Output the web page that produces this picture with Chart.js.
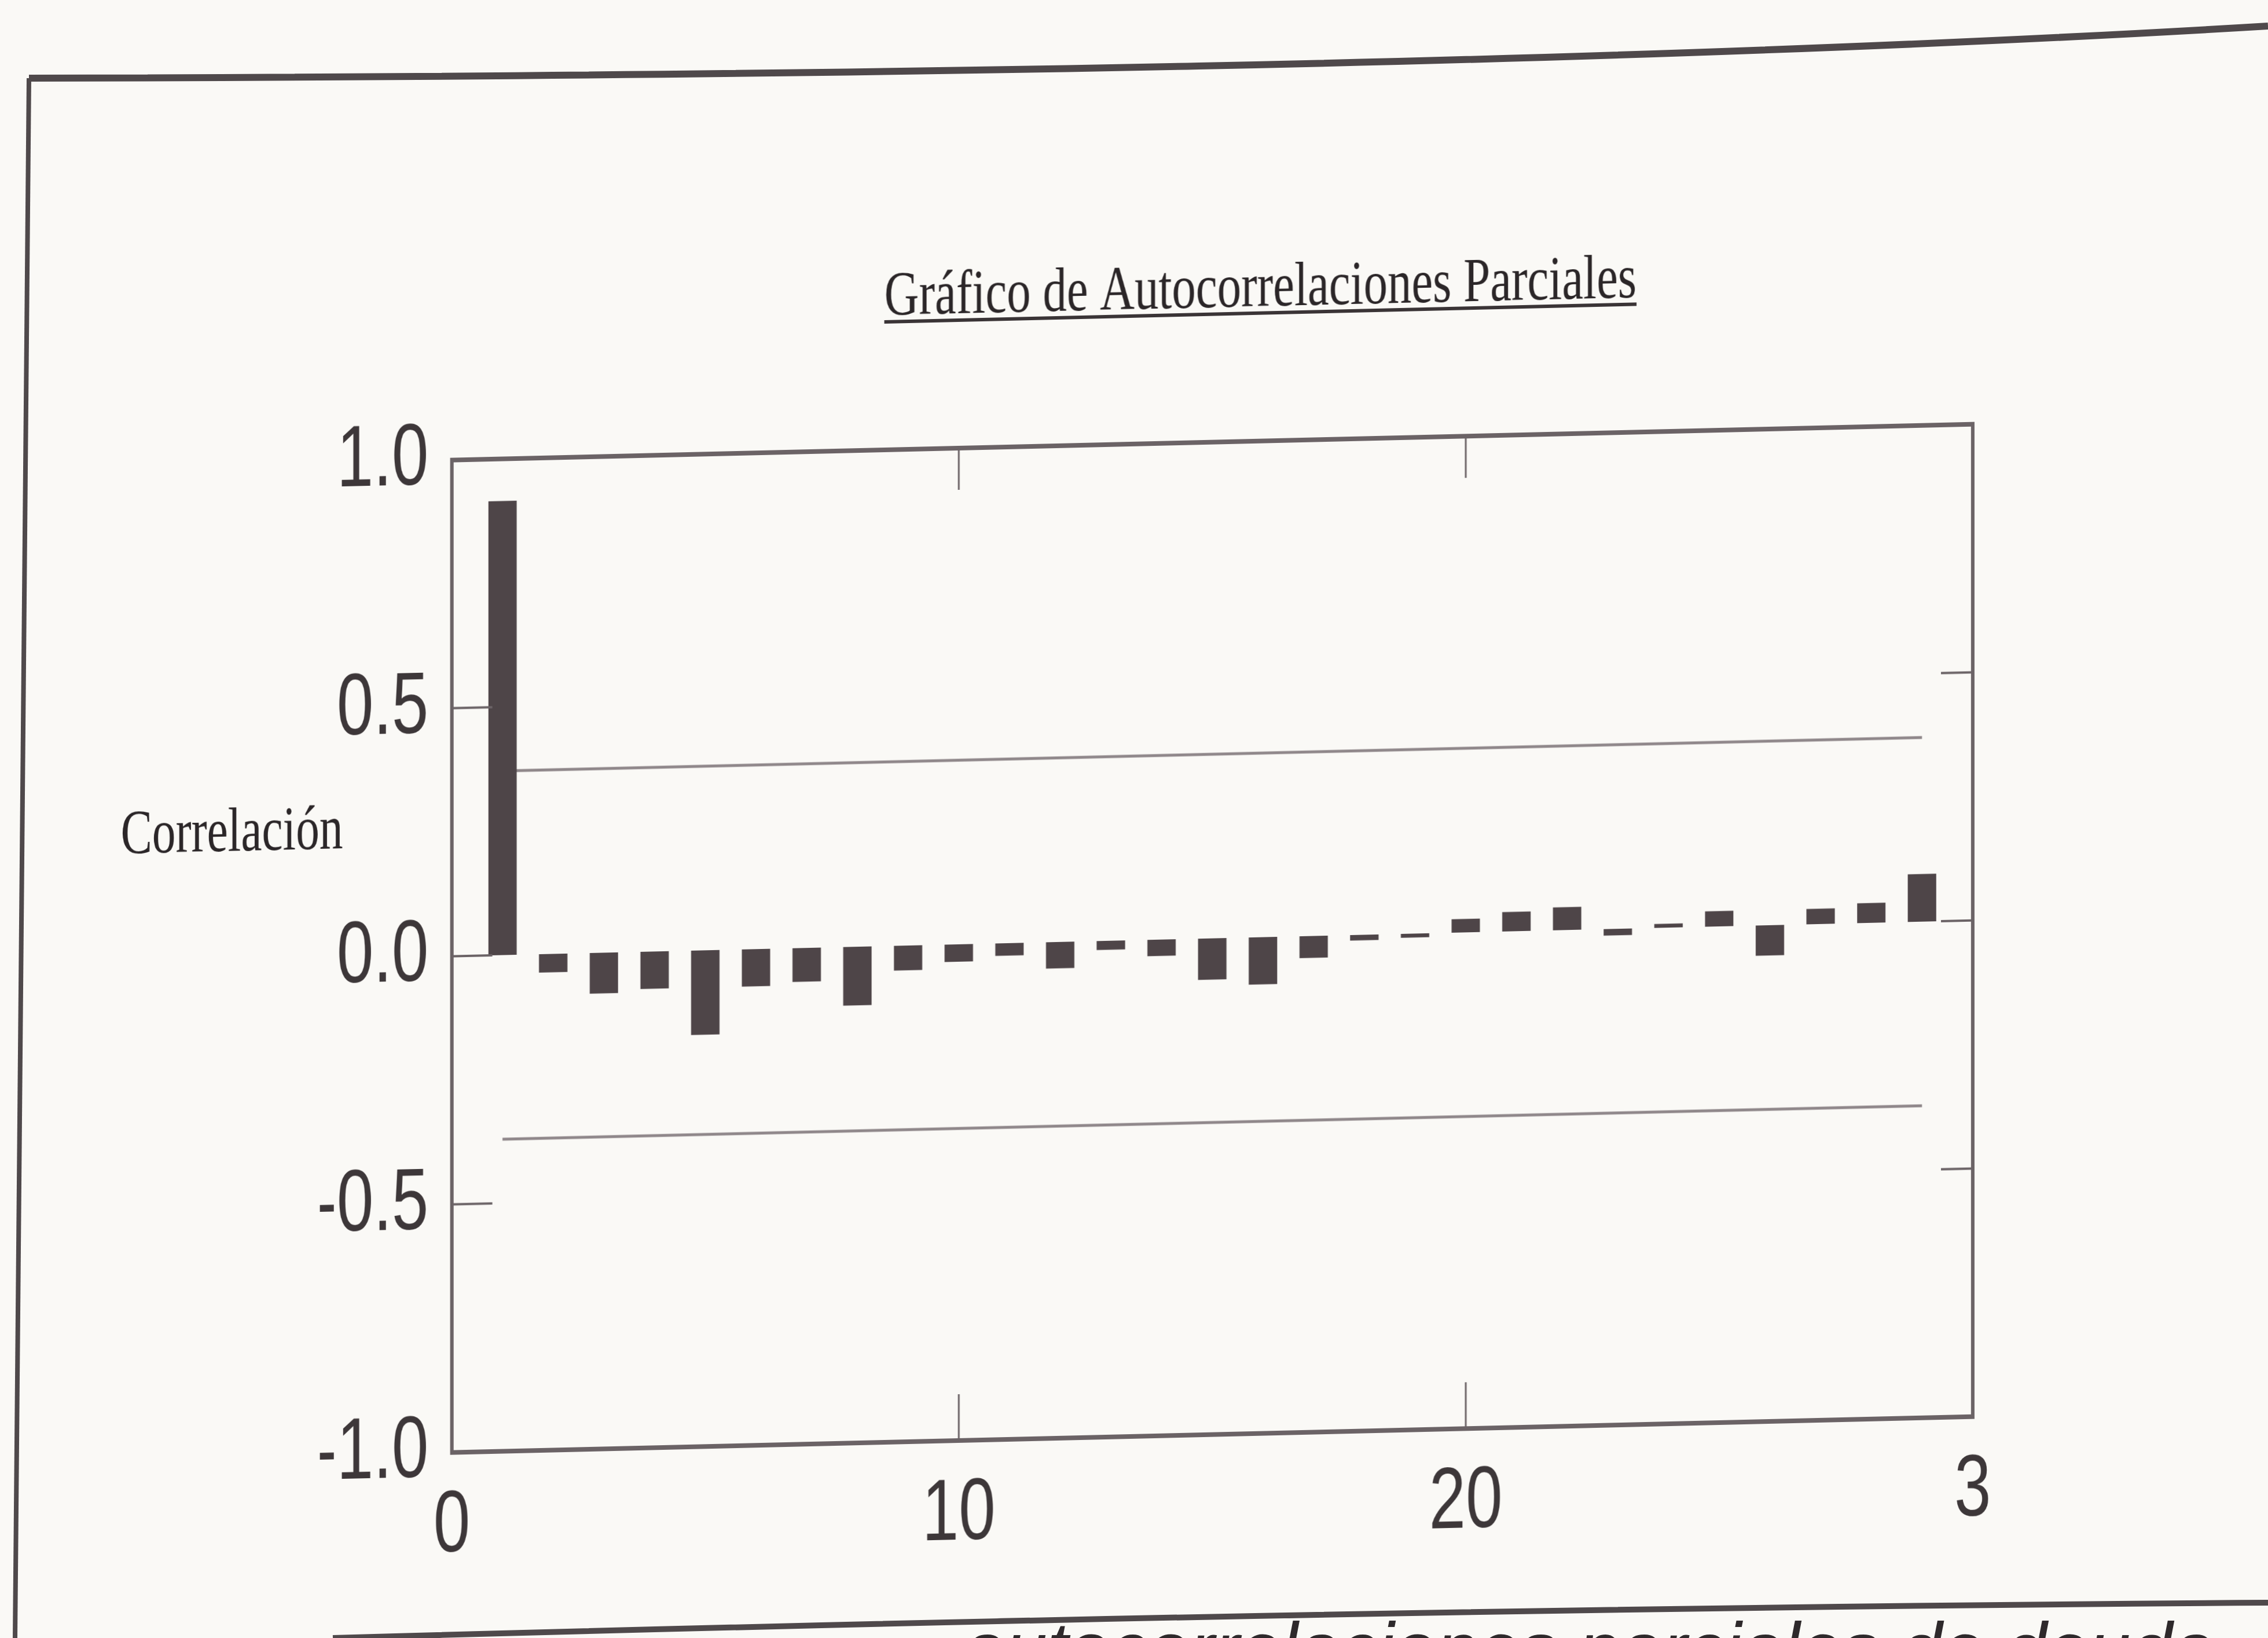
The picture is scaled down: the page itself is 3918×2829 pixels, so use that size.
<!DOCTYPE html>
<html lang="es">
<head>
<meta charset="utf-8">
<title>Gráfico de Autocorrelaciones Parciales</title>
<script src="https://cdn.jsdelivr.net/npm/chart.js@4.4.1/dist/chart.umd.min.js"></script>
<style>
  html, body { margin: 0; padding: 0; width: 3918px; height: 2829px; overflow: hidden; background: #faf9f6; }
  /* the printed figure is photographed slightly tilted and squeezed */
  #sheet { position: absolute; left: 0; top: 0; width: 5155px; height: 2829px;
           transform-origin: 0 0; transform: skewY(-1.35deg) scaleX(0.76); }
  #sheet canvas { display: block; }
  #page-frame { position: absolute; left: 0; top: 0; pointer-events: none; }
</style>
</head>
<body>
<div id="sheet"><canvas id="pacf-chart" width="5155" height="2829"></canvas></div>
<svg id="page-frame" width="3918" height="2829">
  <path d="M 50 135 C 1400 132, 2800 112, 3918 45" fill="none" stroke="#4f494b" stroke-width="12"/>
  <path d="M 50 135 L 26 2829" fill="none" stroke="#4f494b" stroke-width="8"/>
  <path d="M 575 2829 C 1600 2800, 2700 2776, 3918 2768" fill="none" stroke="#4f494b" stroke-width="10"/>
  <text x="3825" y="2893" text-anchor="end" font-family="Liberation Sans, Arial" font-style="italic"
        font-size="130" fill="#2e292b">autocorrelaciones parciales de deuda</text>
</svg>
<script>
// lags and partial autocorrelations
const lags = [1, 2, 3, 4, 5, 6, 7, 8, 9, 10, 11, 12, 13, 14, 15,
              16, 17, 18, 19, 20, 21, 22, 23, 24, 25, 26, 27, 28, 29];
const pacfValues = [0.915, -0.037, -0.082, -0.075, -0.170, -0.075, -0.068, -0.118, -0.050, -0.035,
                    -0.025, -0.053, -0.018, -0.033, -0.083, -0.095, -0.044, -0.011, -0.008, 0.027,
                    0.039, 0.046, -0.013, 0.008, 0.031, -0.061, 0.031, 0.040, 0.096];
const confBound = 0.371;

const xTickValues = [0, 10, 20, 30];
const xTickLabels = ['0', '10', '20', '3'];
const yTickValues = [-1, -0.5, 0, 0.5, 1];

const chartTitle = 'Gráfico de Autocorrelaciones Parciales';
const yAxisTitle = 'Correlación';

const inkColor = '#3d3739';
const frameColor = '#6b6366';

// frame, inward ticks, underlined title and the horizontal y label
const paperFrame = {
    id: 'paperFrame',
    afterDatasetsDraw(chart) {
        const ctx = chart.ctx;
        const a = chart.chartArea;
        const xs = chart.scales.x;
        const ys = chart.scales.y;
        ctx.save();

        ctx.strokeStyle = frameColor;
        ctx.lineWidth = 8;
        ctx.strokeRect(a.left, a.top, a.right - a.left, a.bottom - a.top);

        ctx.lineWidth = 4;
        ctx.beginPath();
        yTickValues.filter(v => v > -1 && v < 1).forEach(v => {
            const py = ys.getPixelForValue(v);
            ctx.moveTo(a.left, py); ctx.lineTo(a.left + 92, py);
            ctx.moveTo(a.right, py); ctx.lineTo(a.right - 72, py);
        });
        xTickValues.filter(v => v > 0 && v < 30).forEach(v => {
            const px = xs.getPixelForValue(v);
            ctx.moveTo(px, a.top); ctx.lineTo(px, a.top + 72);
            ctx.moveTo(px, a.bottom); ctx.lineTo(px, a.bottom - 80);
        });
        ctx.stroke();

        // title
        ctx.fillStyle = '#2b2628';
        ctx.strokeStyle = '#3a3436';
        ctx.font = '109px "Liberation Serif"';
        ctx.textAlign = 'center';
        ctx.textBaseline = 'alphabetic';
        const tx = a.left + 1838;
        const ty = a.top - 233;
        ctx.fillText(chartTitle, tx, ty);
        const w = ctx.measureText(chartTitle).width;
        ctx.lineWidth = 6;
        ctx.beginPath();
        ctx.moveTo(tx - w / 2, ty + 12);
        ctx.lineTo(tx + w / 2, ty + 12);
        ctx.stroke();

        // y label
        ctx.font = '107px "Liberation Serif"';
        ctx.fillText(yAxisTitle, a.left - 500, a.top + 666);
        ctx.restore();
    }
};

new Chart(document.getElementById('pacf-chart'), {
    type: 'bar',
    data: {
        datasets: [
            {
                type: 'bar',
                label: 'Autocorrelación parcial',
                data: lags.map((l, i) => ({ x: l, y: pacfValues[i] })),
                backgroundColor: '#4e4548',
                borderWidth: 0,
                barPercentage: 0.56,
                categoryPercentage: 1.0,
                order: 0
            },
            {
                type: 'line',
                label: 'Límite superior',
                data: [{ x: lags[0], y: confBound }, { x: lags[lags.length - 1], y: confBound }],
                borderColor: '#8f878a',
                borderWidth: 5,
                pointRadius: 0,
                fill: false,
                order: 1
            },
            {
                type: 'line',
                label: 'Límite inferior',
                data: [{ x: lags[0], y: -confBound }, { x: lags[lags.length - 1], y: -confBound }],
                borderColor: '#8f878a',
                borderWidth: 5,
                pointRadius: 0,
                fill: false,
                order: 1
            }
        ]
    },
    options: {
        responsive: false,
        animation: false,
        layout: { padding: { left: 727, right: 671, top: 813, bottom: 102 } },
        plugins: {
            legend: { display: false },
            tooltip: { enabled: false },
            title: { display: false }
        },
        scales: {
            x: {
                type: 'linear',
                min: 0,
                max: 30,
                offset: false,
                grid: { display: false, drawTicks: false },
                border: { display: false },
                afterFit: s => { s.height = 200; },
                afterBuildTicks: s => { s.ticks = xTickValues.map(v => ({ value: v })); },
                ticks: {
                    padding: 40,
                    maxRotation: 0,
                    autoSkip: false,
                    color: inkColor,
                    font: { family: '"Liberation Sans", Arial', size: 150 },
                    callback: v => xTickLabels[xTickValues.indexOf(v)]
                }
            },
            y: {
                min: -1,
                max: 1,
                grid: { display: false, drawTicks: false },
                border: { display: false },
                afterFit: s => { s.width = 300; },
                afterBuildTicks: s => { s.ticks = yTickValues.map(v => ({ value: v })); },
                ticks: {
                    padding: 53,
                    color: inkColor,
                    font: { family: '"Liberation Sans", Arial', size: 150 },
                    callback: v => v.toFixed(1)
                }
            }
        }
    },
    plugins: [paperFrame]
});
</script>
</body>
</html>
